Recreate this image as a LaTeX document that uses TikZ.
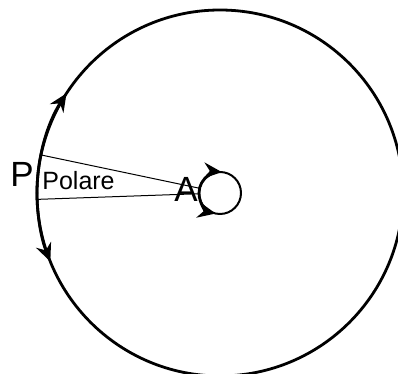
\documentclass[tikz,border=0pt]{standalone}
\usepackage{fontspec}
\setmainfont{Liberation Sans}
\usetikzlibrary{arrows.meta}
\begin{document}
\begin{tikzpicture}[x=0.5pt, y=0.5pt, line join=round, line cap=round,
		rim/.style={line width=1.4pt},
		spin/.style={line width=1.4pt, -{Stealth[length=9pt, width=8pt, inset=3pt]}},
		ray/.style={line width=0.5pt},
		biglabel/.style={font=\fontsize{17.5}{20}\selectfont, inner sep=0pt, anchor=base west},
		smalllabel/.style={font=\fontsize{12.5}{14}\selectfont, inner sep=0pt, anchor=base west}]
		\def\R{183}
		\def\r{21}
		\useasboundingbox (0,0) rectangle (398,374);
		\clip (0,0) rectangle (398,374);
		\coordinate (C) at (220,181);
		\draw[rim] (C) circle[radius=\R];
		\draw[line width=1pt] (C) circle[radius=\r];
		\coordinate (a1) at ([shift={(167:\r)}]C);
		\coordinate (a2) at ([shift={(182:\r)}]C);
		\coordinate (p1) at ([shift={(168:\R)}]C);
		\coordinate (p2) at ([shift={(182:\R)}]C);
		\draw[ray] (a1) -- (p1);
		\draw[ray] (a2) -- (p2);
		\draw[spin] ([shift={(180:\R)}]C) arc[start angle=180, end angle=147, radius=\R];
		\draw[spin] ([shift={(180:\R)}]C) arc[start angle=180, end angle=202, radius=\R];
		\draw[spin] ([shift={(180:\r)}]C) arc[start angle=180, end angle=85, radius=\r];
		\draw[spin] ([shift={(180:\r)}]C) arc[start angle=180, end angle=258, radius=\r];
		\node[biglabel] (P) at (10,187) {P};
		\node[smalllabel] (polare) at (42,184) {Polare};
		\node[biglabel] (A) at (174,172) {A};
\end{tikzpicture}
\end{document}
